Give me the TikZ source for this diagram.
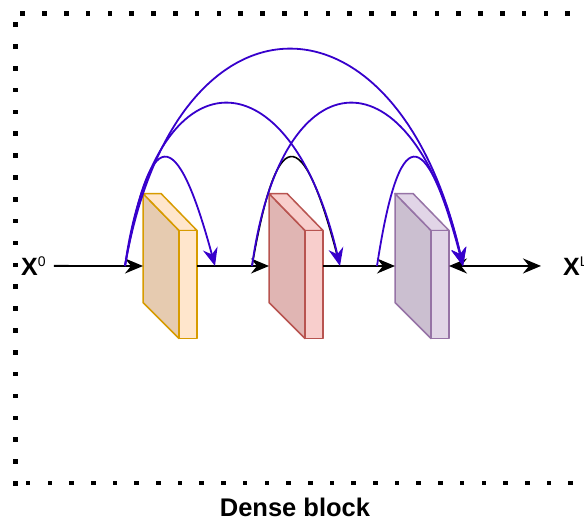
\documentclass[tikz,border=0pt]{standalone}
\usepackage{fontspec}
\setmainfont{Liberation Sans}
\usetikzlibrary{arrows.meta}
\definecolor{arcblue}{RGB}{55,0,204}
\definecolor{orstroke}{RGB}{215,155,0}
\definecolor{orlight}{RGB}{255,230,204}
\definecolor{ordark}{RGB}{230,203,176}
\definecolor{rdstroke}{RGB}{184,84,80}
\definecolor{rdlight}{RGB}{248,206,204}
\definecolor{rddark}{RGB}{224,181,179}
\definecolor{pustroke}{RGB}{150,115,166}
\definecolor{pulight}{RGB}{225,213,231}
\definecolor{pudark}{RGB}{203,191,208}
\newcommand\mycube[4]{%
  \draw[line width=1.5pt, draw=#2, fill=#4, line join=round] (#1.north west) -- ++(36,37) -- ++(0,108) -- ++(-36,-36) -- cycle;
  \draw[line width=1.5pt, draw=#2, fill=#3, line join=round] (#1.north west) -- ++(18,0) -- ++(36,37) -- ++(-18,0) -- cycle;
  \draw[line width=1.5pt, draw=#2, fill=#3, line join=round] (#1.north west) ++(36,37) -- ++(18,0) -- ++(0,108) -- ++(-18,0) -- cycle;
}
\begin{document}
\begin{tikzpicture}[x=1pt,y=-1pt,
  blockbox/.style={minimum width=54pt, minimum height=145pt, inner sep=0pt, outer sep=0pt, draw=none},
  conn/.style={line width=1.8pt, black, -{Stealth[length=18pt,width=15pt,inset=6pt]}},
  arcline/.style={line width=1.8pt, arcblue, -{Stealth[length=18pt,width=15pt,inset=6pt]}},
  lbl/.style={inner sep=0pt, font=\fontsize{25}{30}\selectfont\bfseries},
  dot/.style={fill=black}]
\useasboundingbox (0,0) rectangle (584,520);
\clip (0,0) rectangle (584,520);
% dotted frame
\foreach \i in {0,...,27} \fill[dot] ({22.6+21.8*\i-2.3},{13.3-2.3}) rectangle ++(4.6,4.6);
\foreach \j in {0,...,21} \fill[dot] ({15.5-2.3},{24.5+21.85*\j-2.3}) rectangle ++(4.6,4.6);
\foreach \k in {0,...,26} \fill[dot] ({28.1+21.7*\k-2.3},{483-2.3}) rectangle ++(4.6,4.6);
% blocks
\node[blockbox] (b1) at (170,266) {};
\node[blockbox] (b2) at (296,266) {};
\node[blockbox] (b3) at (422,266) {};
\mycube{b1}{orstroke}{orlight}{ordark}
\mycube{b2}{rdstroke}{rdlight}{rddark}
\mycube{b3}{pustroke}{pulight}{pudark}
% labels
\node[lbl, anchor=base west] (x0) at (21,275) {X\raisebox{8.5pt}{\fontsize{14}{14}\selectfont\mdseries 0}};
\node[lbl, anchor=base west] (xL) at (563,275) {X\raisebox{8.5pt}{\fontsize{14}{14}\selectfont\mdseries L}};
\node[inner sep=0pt, anchor=base, font=\fontsize{25.5}{30}\selectfont\bfseries] (title) at (295,516) {Dense block};
% arc anchor points
\coordinate (s1) at (125,266);
\coordinate (s2) at (252,266);
\coordinate (s3) at (377,266);
\coordinate (t1) at (215,266);
\coordinate (t2) at (340,266);
\coordinate (t3) at (463,266);
% main line
\draw[conn, shorten <=8pt] (x0.east) -- (b1.west);
\draw[conn] (b1.east) -- (b2.west);
\draw[conn] (b2.east) -- (b3.west);
\draw[line width=1.8pt, black, {Stealth[length=18pt,width=15pt,inset=6pt]}-{Stealth[length=18pt,width=15pt,inset=6pt]}, shorten >=22pt] (b3.east) -- (xL.west);
% arcs
\draw[line width=1.6pt, black, shorten >=12pt] (s2) .. controls +(25,-144) and +(-38,-144) .. (t2);
\draw[arcline] (s1) .. controls +(25,-144) and +(-39,-144) .. (t1);
\draw[arcline] (s1) .. controls +(30,-216) and +(-50,-216) .. (t2);
\draw[arcline] (s1) .. controls +(50,-288) and +(-65,-288) .. (t3);
\draw[arcline] (s2) .. controls +(30,-216) and +(-50,-216) .. (t3);
\draw[arcline] (s3) .. controls +(22,-144) and +(-38,-144) .. (t3);
\end{tikzpicture}
\end{document}
